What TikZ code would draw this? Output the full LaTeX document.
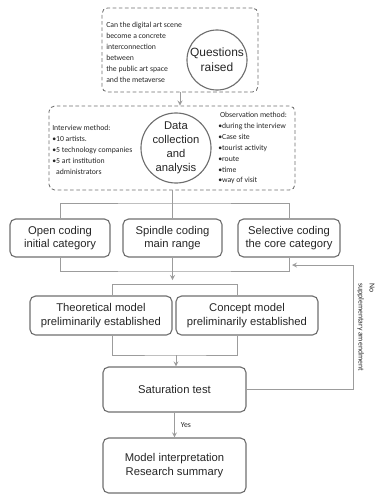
\documentclass[tikz,border=0pt]{standalone}
\usepackage{fontspec}
\setmainfont{Liberation Sans}
\newfontfamily\notefont{Carlito}

\definecolor{boxgray}{HTML}{6E6E6E}
\definecolor{linegray}{HTML}{9C9C9C}
\definecolor{inkgray}{HTML}{262626}

\begin{document}
\begin{tikzpicture}[
  x=0.025cm, y=-0.025cm,
  >=stealth,
  dashbox/.style={
  	draw=boxgray,
  	dash pattern=on 2.6pt off 1.8pt,
  	rounded corners=4pt,
  	line width=0.6pt
  },
  stepbox/.style={
  	draw=boxgray,
  	rounded corners=4pt,
  	line width=0.8pt,
  	align=center,
  	text=inkgray,
  	font=\fontsize{8}{9.5}\selectfont
  },
  bigcirc/.style={
  	circle,
  	draw=boxgray,
  	line width=0.8pt,
  	align=center,
  	inner sep=0pt,
  	text=inkgray
  },
  note/.style={
  	align=left,
  	inner sep=0pt,
  	text=inkgray,
  	font=\notefont\fontsize{5.5}{7.8}\selectfont
  },
  link/.style={
  	draw=linegray,
  	line width=0.6pt
  },
  flow/.style={
  	link,
  	->
  }
  ]
  \useasboundingbox (0,0) rectangle (375,494);
  
  % question block
  \node[dashbox, minimum width=3.9cm, minimum height=2.1cm] (qbox) at (180,50) {};
  \node[bigcirc, minimum size=1.5cm, font=\fontsize{8.5}{10.6}\selectfont] (qc) at (217,60) {Questions\\raised};
  \node[note, anchor=west] (qtxt) at (106,52) {Can the digital art scene\\become a concrete\\interconnection\\between\\the public art space\\and the metaverse};
  
  % data block
  \node[dashbox, minimum width=6.15cm, minimum height=2.1cm] (dbox) at (172,148) {};
  \node[bigcirc, minimum size=1.675cm, font=\fontsize{8}{10}\selectfont] (dc) at (176,148) {Data\\collection\\and\\analysis};
  \node[note, anchor=west] (iv) at (52,150) {Interview method:\\•10 artists.\\•5 technology companies\\•5 art institution\\\phantom{•}administrators};
  \node[note, anchor=west] (ob) at (218,148) {\ Observation method:\\•during the interview\\•Case site\\•tourist activity\\•route\\•time\\•way of visit};
  
  \foreach \x/\w/\n/\t in {60/2.5/open/{Open coding\\initial category},172.5/2.475/spin/{Spindle coding\\main range},289/2.55/sel/{Selective coding\\the core category}}
  \node[stepbox, minimum width=\w cm, minimum height=0.95cm] (\n) at (\x,238) {\t};
  
  \node[stepbox, minimum width=3.55cm, minimum height=0.975cm] (theo) at (101,315.5) {Theoretical model\\preliminarily established};
  \node[stepbox, minimum width=3.55cm, minimum height=0.975cm] (conc) at (247,315.5) {Concept model\\preliminarily established};
  \node[stepbox, minimum width=3.575cm, minimum height=1.125cm] (sat) at (174.5,389.5) {Saturation test};
  \node[stepbox, minimum width=3.575cm, minimum height=1.375cm] (model) at (174.5,465.5) {Model interpretation\\Research summary};
  
  \coordinate (j1) at (174,203);
  \coordinate (j2) at (174,271);
  \coordinate (j3) at (174,280);
  \coordinate (t1) at (112,284);
  \coordinate (t2) at (237,284);
  \coordinate (j5) at (176,355);
  \coordinate (fb) at (353,265);
  \coordinate (fbend) at (292,265);
  
  \draw[flow] (qbox.south) -- (qbox.south |- dbox.north);
  \draw[link] (dbox.south) -- (dbox.south |- j1);
  \draw[link] (open.north) |- (j1) -| (sel.north);
  \draw[link] (spin.north) -- (spin.north |- j1);
  \draw[link] (open.south) |- (j2) -| (sel.south);
  \draw[flow] (spin.south) -- (spin.south |- j3);
  \draw[link] (t1 |- theo.north) -- (t1) -- (t2) -- (t2 |- conc.north);
  \draw[link] (t1 |- theo.south) |- (j5) -| (t2 |- conc.south);
  \draw[flow] (j5) -- (sat.north -| j5);
  \draw[flow] (sat.south) -- node[note, right=0.15cm] (yes) {Yes} (model.north);
  \draw[flow] (sat.east) -| (fb) -- (fbend);
  
  \node[note, rotate=-90] (nolbl) at (366,327) {No\\supplementary amendment};
  
  \end{tikzpicture}
\end{document}
